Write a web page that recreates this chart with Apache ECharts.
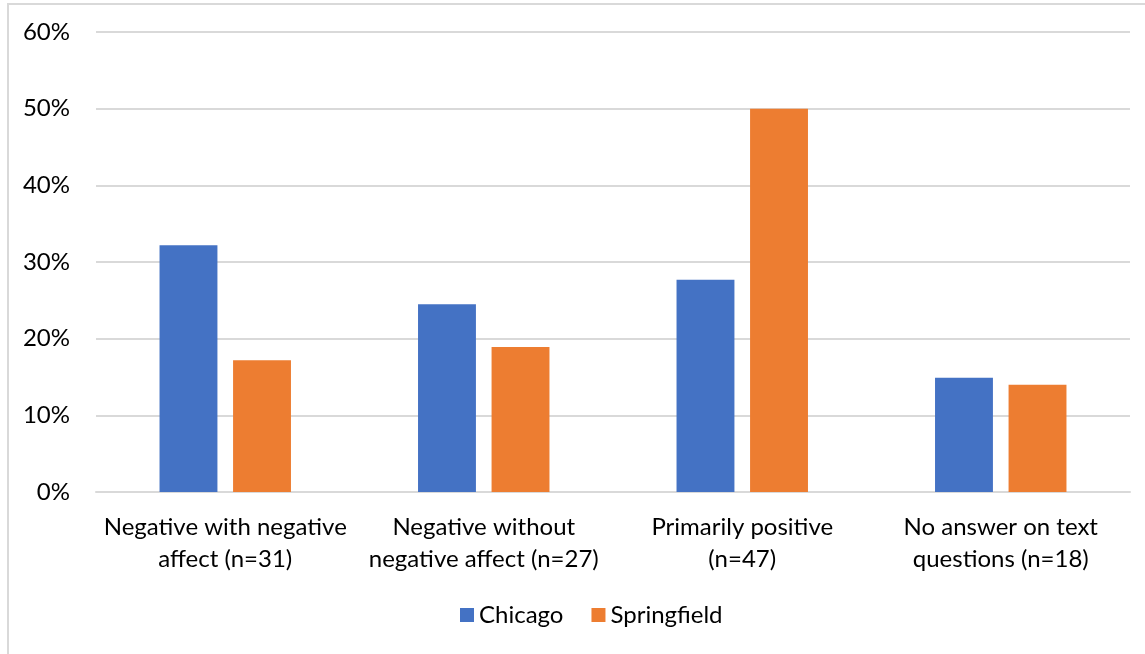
<!DOCTYPE html>
<html>
<head>
<meta charset="utf-8">
<script src="https://cdn.jsdelivr.net/npm/echarts@6/dist/echarts.min.js"></script>
<style>
  html, body { margin: 0; padding: 0; background: #fff; }
  #frame { position: absolute; left: 7px; top: 3px; width: 1150px; height: 660px; border: 2px solid #d9d9d9; box-sizing: border-box; }
  #chart { position: absolute; left: 0; top: 0; width: 1145px; height: 654px; }
</style>
</head>
<body>
<div id="frame"></div>
<div id="chart"></div>
<script>
// Share of responses per category, by city
const categories = [
  'Negative with negative\naffect (n=31)',
  'Negative without\nnegative affect (n=27)',
  'Primarily positive\n(n=47)',
  'No answer on text\nquestions (n=18)'
];
const chicago = [32.2, 24.5, 27.7, 14.9];
const springfield = [17.2, 18.9, 50.0, 14.0];
const yTicks = [0, 10, 20, 30, 40, 50, 60];

const font = 'Lato, "Open Sans", sans-serif';
const chart = echarts.init(document.getElementById('chart'));
chart.setOption({
  animation: false,
  textStyle: { fontFamily: font },
  legend: {
    bottom: 22,
    left: 455,
    itemWidth: 14,
    itemHeight: 14,
    itemGap: 28,
    itemStyle: { borderWidth: 0 },
    icon: 'rect',
    textStyle: { fontSize: 24, color: '#000', fontFamily: font },
    data: ['Chicago', 'Springfield']
  },
  grid: { left: 96, right: 15, top: 32, bottom: 162 },
  xAxis: {
    type: 'category',
    data: categories,
    axisLine: { lineStyle: { color: '#d9d9d9', width: 2 } },
    axisTick: { show: false },
    axisLabel: { fontSize: 24, color: '#000', lineHeight: 32, margin: 19, interval: 0, fontFamily: font }
  },
  yAxis: {
    type: 'value',
    min: yTicks[0],
    max: yTicks[yTicks.length - 1],
    interval: 10,
    axisLine: { show: false },
    axisTick: { show: false },
    splitLine: { lineStyle: { color: '#d9d9d9', width: 2 } },
    axisLabel: { formatter: '{value}%', fontSize: 24, color: '#000', margin: 26, fontFamily: font }
  },
  series: [
    {
      name: 'Chicago', type: 'bar', data: chicago,
      barWidth: '22.4%', barGap: '27%',
      itemStyle: { color: '#4472c4' }
    },
    {
      name: 'Springfield', type: 'bar', data: springfield,
      barWidth: '22.4%', barGap: '27%',
      itemStyle: { color: '#ed7d31' }
    }
  ]
});
</script>
</body>
</html>
